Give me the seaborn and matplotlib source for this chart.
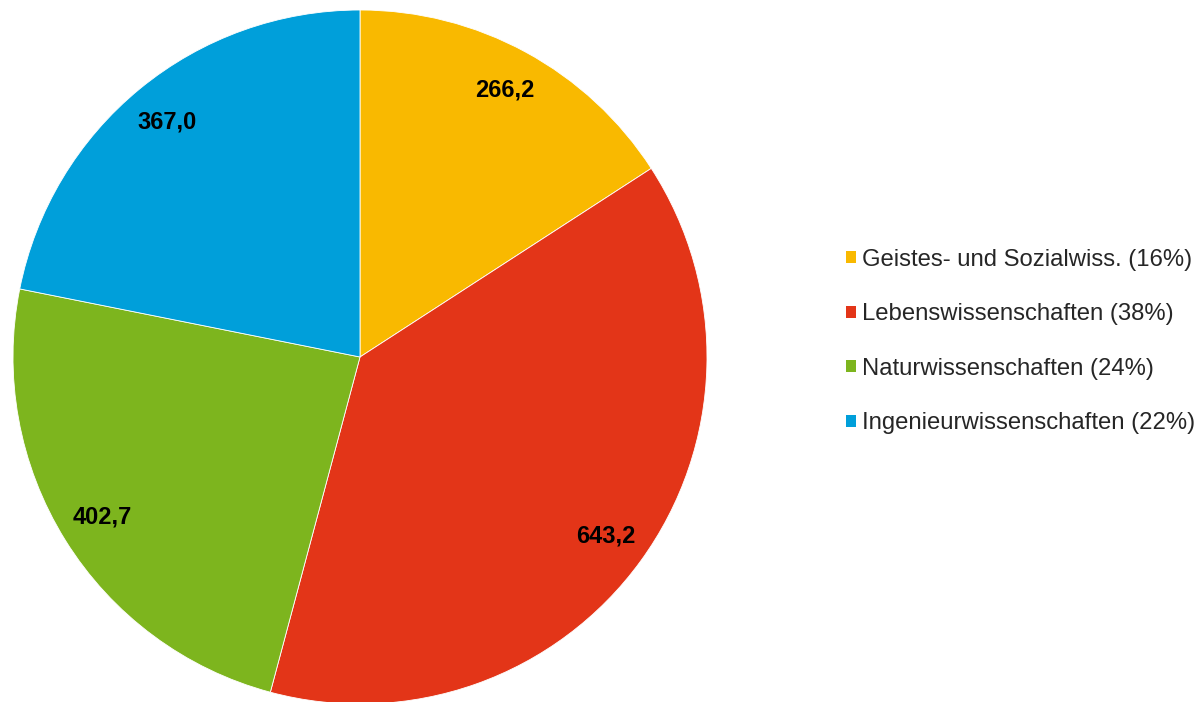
import matplotlib
matplotlib.use("Agg")
import matplotlib.pyplot as plt
from matplotlib.patches import Patch
import seaborn as sns

# Daten
kategorien = ["Geistes- und Sozialwiss.", "Lebenswissenschaften",
              "Naturwissenschaften", "Ingenieurwissenschaften"]
werte = [266.2, 643.2, 402.7, 367.0]
anteile = [16, 38, 24, 22]
farben = ["#F9B900", "#E33518", "#7DB51E", "#009FDA"]

sns.set_theme(style="white")
plt.rcParams["font.family"] = ["Liberation Sans", "DejaVu Sans"]

summe = sum(werte)

fig = plt.figure(figsize=(12.01, 7.02), dpi=100)
ax = fig.add_axes([13 / 1201, -2 / 702, 694 / 1201, 694 / 702])

wedges, texte, autotexte = ax.pie(
    werte, colors=sns.color_palette(farben), startangle=90, counterclock=False,
    autopct=lambda p: f"{p * summe / 100:.1f}".replace(".", ","),
    pctdistance=0.875, radius=1,
    wedgeprops=dict(linewidth=0.6, edgecolor="white"),
    textprops=dict(fontsize=17, fontweight="bold", color="black"))
ax.set_xlim(-1, 1)
ax.set_ylim(-1, 1)
ax.set_aspect("equal")

handles = [Patch(facecolor=c, edgecolor="none") for c in farben]
labels = [f"{k} ({a}%)" for k, a in zip(kategorien, anteile)]
fig.legend(handles, labels, loc="center left", bbox_to_anchor=(846 / 1201, 0.5135),
           frameon=False, fontsize=17.2, handlelength=0.42, handleheight=0.42,
           handletextpad=0.25, labelspacing=1.36, borderpad=0, borderaxespad=0)

fig.savefig("out.png", dpi=100)
